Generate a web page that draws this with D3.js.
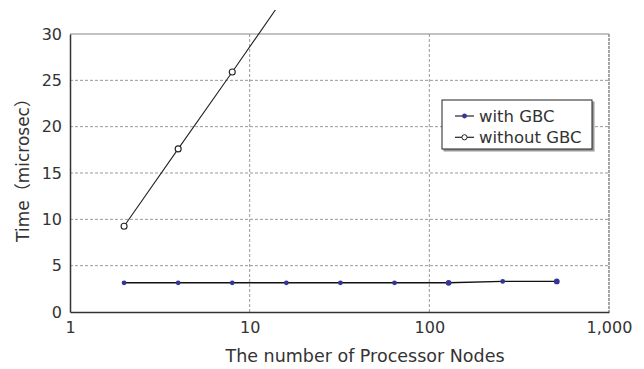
<!DOCTYPE html>
<html><head><meta charset="utf-8">
<script src="https://cdn.jsdelivr.net/npm/d3@7"></script>
<style>body{margin:0;background:#fff}svg{display:block}text{font-family:"DejaVu Sans","Noto Sans CJK JP",sans-serif;fill:#333}</style>
</head><body>
<script>
const nodes = [2, 4, 8, 16, 32, 64, 128, 256, 512];
const withGBC = [3.15, 3.15, 3.15, 3.15, 3.15, 3.15, 3.15, 3.3, 3.3];
const withoutNodes = [2, 4, 8, 16];
const withoutGBC = [9.25, 17.6, 25.9, 34.3];
const xTicks = [1, 10, 100, 1000];
const xTickLabels = ["1", "10", "100", "1,000"];
const yTicks = [0, 5, 10, 15, 20, 25, 30];
const seriesNames = ["with GBC", "without GBC"];

const W = 644, H = 369;
const m = {left: 70, right: 35, top: 34, bottom: 57};
const svg = d3.select("body").append("svg").attr("width", W).attr("height", H);
const x = d3.scaleLog().domain([1, 1000]).range([m.left, W - m.right]);
const y = d3.scaleLinear().domain([0, 30]).range([H - m.bottom, m.top]);

// grid
const g = svg.append("g");
g.selectAll(".hg").data(yTicks.filter(d => d > 0 && d < 30)).join("line")
  .attr("x1", m.left).attr("x2", W - m.right)
  .attr("y1", d => y(d)).attr("y2", d => y(d))
  .attr("stroke", "#999").attr("stroke-dasharray", "3,2");
g.selectAll(".vg").data(xTicks.slice(1, 3)).join("line")
  .attr("x1", d => x(d)).attr("x2", d => x(d))
  .attr("y1", m.top).attr("y2", H - m.bottom)
  .attr("stroke", "#999").attr("stroke-dasharray", "3,2");
// top and right border
svg.append("line").attr("x1", m.left).attr("x2", W - m.right).attr("y1", m.top).attr("y2", m.top)
  .attr("stroke", "#888").attr("stroke-width", 1.2);
svg.append("line").attr("x1", W - m.right).attr("x2", W - m.right).attr("y1", m.top).attr("y2", H - m.bottom)
  .attr("stroke", "#888").attr("stroke-width", 1.5).attr("stroke-dasharray", "3,1");

// axes
const xAxis = svg.append("g").attr("transform", `translate(0,${H - m.bottom})`)
  .call(d3.axisBottom(x).tickValues(xTicks).tickFormat((d, i) => xTickLabels[i]).tickSize(0).tickPadding(10));
const yAxis = svg.append("g").attr("transform", `translate(${m.left},0)`)
  .call(d3.axisLeft(y).tickValues(yTicks).tickSize(0).tickPadding(8));
[xAxis, yAxis].forEach(a => {
  a.select(".domain").attr("stroke", "#333").attr("stroke-width", 1.5);
  a.selectAll("text").style("font-size", "16px").style("font-family", "'DejaVu Sans', sans-serif").attr("fill", "#333");
});

// clip
svg.append("clipPath").attr("id", "clip").append("rect").attr("x", 0).attr("y", 10).attr("width", W).attr("height", H);

const line = d3.line().x(d => x(d[0])).y(d => y(d[1]));
const wd = nodes.map((n, i) => [n, withGBC[i]]);
const wod = withoutNodes.map((n, i) => [n, withoutGBC[i]]);
svg.append("path").datum(wod).attr("d", line).attr("fill", "none").attr("stroke", "#222").attr("stroke-width", 1.1).attr("clip-path", "url(#clip)");
svg.append("path").datum(wd).attr("d", line).attr("fill", "none").attr("stroke", "#111").attr("stroke-width", 1.4);

svg.selectAll(".p1").data(wd).join("circle")
  .attr("cx", d => x(d[0])).attr("cy", d => y(d[1])).attr("r", (d, i) => (i === 6 || i === 8) ? 2.9 : 2.4)
  .attr("fill", "#33359a");
svg.selectAll(".p2").data(wod.slice(0, 3)).join("circle")
  .attr("cx", d => x(d[0])).attr("cy", d => y(d[1])).attr("r", 3)
  .attr("fill", "#fff").attr("stroke", "#222").attr("stroke-width", 1.1);

// titles
svg.append("text").attr("x", 365).attr("y", 362).attr("text-anchor", "middle")
  .style("font-size", "17.5px").text("The number of Processor Nodes");
svg.append("text").attr("transform", "translate(29,166) rotate(-90)").attr("text-anchor", "middle")
  .style("font-size", "17px").text("Time（microsec）");

// legend
const lg = svg.append("g").attr("transform", "translate(442,100)");
lg.append("rect").attr("x", 1.5).attr("y", 1.5).attr("width", 151).attr("height", 50).attr("fill", "#999");
lg.append("rect").attr("width", 150).attr("height", 49).attr("fill", "#fff").attr("stroke", "#222").attr("stroke-width", 1);
[0, 1].forEach(i => {
  const yy = 16 + i * 21.3;
  lg.append("line").attr("x1", 13).attr("x2", 32).attr("y1", yy).attr("y2", yy).attr("stroke", "#222").attr("stroke-width", 1.2);
  if (i === 0) lg.append("circle").attr("cx", 22.5).attr("cy", yy).attr("r", 2.4).attr("fill", "#33359a");
  else lg.append("circle").attr("cx", 22.5).attr("cy", yy).attr("r", 2.6).attr("fill", "#fff").attr("stroke", "#222");
  lg.append("text").attr("x", 37).attr("y", yy + 5.5).style("font-size", "16.5px").text(seriesNames[i]);
});
</script>
</body></html>
